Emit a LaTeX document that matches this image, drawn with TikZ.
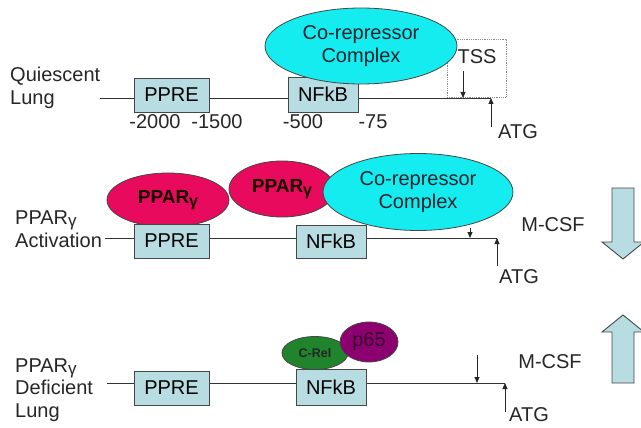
\documentclass[tikz,border=0pt]{standalone}
\usepackage{fontspec}
\setmainfont{Liberation Sans}
\usetikzlibrary{shapes.geometric,arrows.meta}
\definecolor{boxblue}{RGB}{183,221,227}
\definecolor{edgegray}{RGB}{70,70,70}
\definecolor{cyanblob}{RGB}{20,236,240}
\definecolor{pparred}{RGB}{232,10,92}
\definecolor{relgreen}{RGB}{32,132,44}
\definecolor{ppurple}{RGB}{140,0,112}
\definecolor{darktext}{RGB}{25,35,45}
\begin{document}
\begin{tikzpicture}[x=1pt,y=-1pt,
  txt/.style={font=\fontsize{20}{22.5}\selectfont, inner sep=0pt, text=black!85},
  gene/.style={draw=edgegray, fill=boxblue, line width=0.9pt, minimum width=75pt, minimum height=34pt, inner sep=0pt, font=\fontsize{20}{22}\selectfont},
  blob/.style={ellipse, draw=edgegray, line width=0.8pt, inner sep=0pt, align=center, font=\fontsize{20}{23}\selectfont, text=darktext},
  dna/.style={draw=black!80, line width=0.9pt},
  tip/.style={draw=black!85, line width=0.8pt, -{Triangle[length=6pt,width=5pt]}},
  barrow/.style={draw=edgegray, fill=boxblue, line width=0.9pt, line join=miter}
]
\useasboundingbox (0,0) rectangle (641,428);

% ---------------- Row 1 ----------------
\node[txt, anchor=west, align=left] (q1) at (10,88) {Quiescent\\Lung};
\coordinate (a1) at (100,98);
\coordinate (b1) at (491,98);
\draw[dna] (a1) -- (b1);
\node[gene] (ppre1) at (171.5,95) {PPRE};
\node[gene, minimum width=70pt, minimum height=35pt] (nfkb1) at (323,94.5) {NFkB};
\node[txt] (n2000) at (155,122) {-2000};
\node[txt] (n1500) at (217,122) {-1500};
\node[txt] (n500) at (303,122) {-500};
\node[txt] (n75) at (373,122) {-75};
\node[draw=black!45, densely dotted, line width=0.8pt, minimum width=59pt, minimum height=58pt, inner sep=0pt] (tssbox) at (476.5,68) {};
\node[txt] (tss) at (477,57) {TSS};
\coordinate (tss1s) at (463,71);
\coordinate (tss1e) at (463,98);
\draw[tip] (tss1s) -- (tss1e);
\coordinate (atg1s) at (491,127);
\draw[tip] (atg1s) -- (b1);
\node[txt] (atg1) at (518,132) {ATG};
\node[blob, fill=cyanblob, minimum width=192pt, minimum height=76pt] (cor1) at (361,46) {Co-repressor\\Complex};

% ---------------- Row 2 ----------------
\node[txt, anchor=west, align=left] (q2) at (15,229) {PPAR\raisebox{-0.12em}{\fontsize{17}{17}\selectfont γ}\\Activation};
\coordinate (a2) at (105,238);
\coordinate (b2) at (497,238);
\draw[dna] (a2) -- (b2);
\node[blob, fill=pparred, minimum width=122pt, minimum height=54pt, font=\bfseries\fontsize{19}{22}\selectfont, text=black!90!red] (ppar1) at (168,200) {PPAR\raisebox{-0.12em}{\fontsize{16}{16}\selectfont γ}};
\node[blob, fill=pparred, minimum width=106pt, minimum height=56pt, font=\bfseries\fontsize{19}{22}\selectfont, text=black!90!red] (ppar2) at (282,189) {PPAR\raisebox{-0.12em}{\fontsize{16}{16}\selectfont γ}};
\node[gene] (ppre2) at (171.5,241) {PPRE};
\node[gene, minimum width=70pt, minimum height=33pt] (nfkb2) at (331,241.5) {NFkB};
\coordinate (s2s) at (470,228);
\coordinate (s2e) at (470,238);
\draw[tip] (s2s) -- (s2e);
\node[blob, fill=cyanblob, minimum width=190pt, minimum height=77pt] (cor2) at (418,192) {Co-repressor\\Complex};
\coordinate (atg2s) at (497,266);
\draw[tip] (atg2s) -- (b2);
\node[txt] (atg2) at (519,277) {ATG};
\node[txt] (mcsf2) at (553,225) {M-CSF};
\draw[barrow] (612,188) -- (634,188) -- (634,242) -- (644,242) -- (623,259) -- (602,242) -- (612,242) -- cycle;

% ---------------- Row 3 ----------------
\node[txt, anchor=west, align=left] (q3) at (15,390) {PPAR\raisebox{-0.12em}{\fontsize{17}{17}\selectfont γ}\\Deficient\\Lung};
\coordinate (a3) at (107,383);
\coordinate (b3) at (505,383);
\draw[dna] (a3) -- (b3);
\node[gene] (ppre3) at (171.5,388) {PPRE};
\node[blob, fill=relgreen, minimum width=66pt, minimum height=33pt, font=\bfseries\fontsize{12.5}{13}\selectfont, text=black!85] (crel) at (315,353) {C-Rel};
\node[blob, fill=ppurple, minimum width=58pt, minimum height=40pt, font=\fontsize{20}{22}\selectfont, text=black!60!ppurple] (p65) at (369,342) {p65};
\node[gene, minimum width=70pt, minimum height=36pt] (nfkb3) at (331,387) {NFkB};
\coordinate (s3s) at (477,355);
\coordinate (s3e) at (477,383);
\draw[tip] (s3s) -- (s3e);
\coordinate (atg3s) at (505,412);
\draw[tip] (atg3s) -- (b3);
\node[txt] (atg3) at (529,415) {ATG};
\node[txt] (mcsf3) at (550,362) {M-CSF};
\draw[barrow] (623,315) -- (644,332) -- (634,332) -- (634,383) -- (612,383) -- (612,332) -- (602,332) -- cycle;
\end{tikzpicture}
\end{document}
